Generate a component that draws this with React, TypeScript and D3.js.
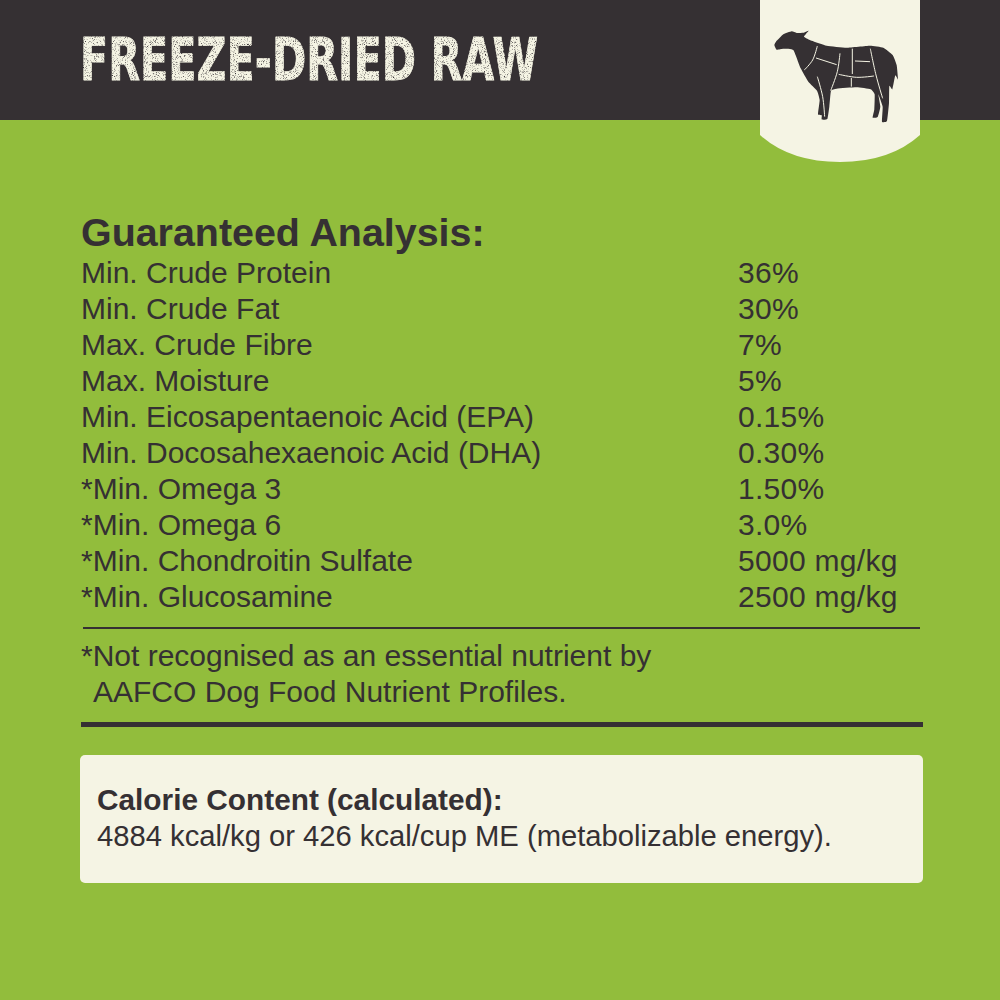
import React, { useEffect, useRef } from "react";
import * as d3 from "d3";

const nutrients = [
  "Min. Crude Protein",
  "Min. Crude Fat",
  "Max. Crude Fibre",
  "Max. Moisture",
  "Min. Eicosapentaenoic Acid (EPA)",
  "Min. Docosahexaenoic Acid (DHA)",
  "*Min. Omega 3",
  "*Min. Omega 6",
  "*Min. Chondroitin Sulfate",
  "*Min. Glucosamine",
];
const amounts = ["36%", "30%", "7%", "5%", "0.15%", "0.30%", "1.50%", "3.0%", "5000 mg/kg", "2500 mg/kg"];
const footnotes = ["*Not recognised as an essential nutrient by", "AAFCO Dog Food Nutrient Profiles."];

const GREEN = "#92bd3c";
const DARK = "#353033";
const CREAM = "#f5f4e4";
const FONT = "'Liberation Sans', Arial, sans-serif";

// sheep icon, 3x units
const sheepOutline: [number, number][] = [
  [103, 135], [108, 125], [130, 103], [155, 94], [170, 99], [190, 98], [206, 92], [192, 110], [215, 122],
  [260, 137], [320, 143], [390, 137], [430, 143], [458, 165], [470, 195], [474, 238], [466, 226],
  [457, 268], [448, 258], [447, 310], [441, 363], [426, 365], [428, 320], [415, 283], [421, 320],
  [413, 351], [398, 353], [403, 328], [404, 283], [392, 268], [350, 262], [290, 266], [273, 272],
  [268, 320], [262, 357], [245, 358], [249, 325], [249, 345], [234, 343], [239, 300], [231, 272],
  [205, 245], [182, 205], [160, 150], [130, 146], [110, 149],
];
const sheepCuts: [number, number][][] = [
  [[232, 138], [218, 180], [193, 210]],
  [[228, 174], [290, 194]],
  [[300, 160], [292, 215], [272, 272]],
  [[337, 146], [337, 222]],
  [[345, 183], [390, 185]],
  [[391, 146], [408, 225], [428, 295]],
  [[296, 223], [350, 232], [402, 228]],
  [[334, 234], [334, 260]],
  [[232, 230], [248, 290], [254, 350]],
];

const App: React.FC = () => {
  const svgRef = useRef<SVGSVGElement | null>(null);

  useEffect(() => {
    if (!svgRef.current) return;
    document.body.style.margin = "0";
    const svg = d3.select(svgRef.current);
    svg.selectAll("*").remove();

    // Speckled print look for the title
    const filter = svg.append("defs").append("filter").attr("id", "grain");
    filter
      .append("feTurbulence")
      .attr("type", "fractalNoise")
      .attr("baseFrequency", 1.1)
      .attr("numOctaves", 2)
      .attr("seed", 4)
      .attr("result", "noise");
    filter
      .append("feColorMatrix")
      .attr("in", "noise")
      .attr("type", "matrix")
      .attr("values", "0 0 0 0 0  0 0 0 0 0  0 0 0 0 0  0 0 0 -3 2.6")
      .attr("result", "mask");
    filter
      .append("feComposite")
      .attr("in", "SourceGraphic")
      .attr("in2", "mask")
      .attr("operator", "in");

    // Background and header
    svg.append("rect").attr("width", 1000).attr("height", 1000).attr("fill", GREEN);
    svg.append("rect").attr("width", 1000).attr("height", 120).attr("fill", DARK);
    svg
      .append("text")
      .attr("x", 80)
      .attr("y", 80)
      .attr("font-family", "'DejaVu Sans', sans-serif")
      .attr("font-weight", 700)
      .attr("font-size", 58)
      .attr("textLength", 458)
      .attr("lengthAdjust", "spacingAndGlyphs")
      .attr("fill", CREAM)
      .attr("stroke", CREAM)
      .attr("stroke-width", 0.8)
      .attr("filter", "url(#grain)")
      .text("FREEZE-DRIED RAW");

    // Tab with sheep
    svg
      .append("path")
      .attr("d", "M760 0H920V135Q890 162 840 162Q790 162 760 135Z")
      .attr("fill", CREAM);
    const sheep = svg.append("g").attr("transform", "translate(740,0) scale(0.3333)");
    sheep
      .append("path")
      .attr("d", d3.line().curve(d3.curveCardinalClosed.tension(0.6))(sheepOutline))
      .attr("fill", DARK);
    sheep
      .selectAll("path.cut")
      .data(sheepCuts)
      .enter()
      .append("path")
      .attr("class", "cut")
      .attr("d", (d) => d3.line().curve(d3.curveCatmullRom)(d))
      .attr("fill", "none")
      .attr("stroke", CREAM)
      .attr("stroke-width", 3);

    // Table
    svg
      .append("text")
      .attr("x", 81)
      .attr("y", 246)
      .attr("font-family", FONT)
      .attr("font-weight", 700)
      .attr("font-size", 39.4)
      .attr("fill", DARK)
      .text("Guaranteed Analysis:");

    const y = d3.scaleLinear().domain([0, nutrients.length - 1]).range([283, 607]);
    const table = svg.append("g").attr("font-family", FONT).attr("font-size", 30).attr("fill", DARK);
    table
      .selectAll("text.name")
      .data(nutrients)
      .enter()
      .append("text")
      .attr("class", "name")
      .attr("x", 81)
      .attr("y", (_, i) => y(i))
      .text((d) => d);
    table
      .selectAll("text.amount")
      .data(amounts)
      .enter()
      .append("text")
      .attr("class", "amount")
      .attr("x", 738)
      .attr("y", (_, i) => y(i))
      .attr("letter-spacing", 0.3)
      .text((d) => d);

    // Rules and footnote
    svg.append("rect").attr("x", 83).attr("y", 627).attr("width", 837).attr("height", 2).attr("fill", DARK);
    table
      .selectAll("text.note")
      .data(footnotes)
      .enter()
      .append("text")
      .attr("class", "note")
      .attr("x", (_, i) => (i === 0 ? 81 : 93))
      .attr("y", (_, i) => 666 + i * 36)
      .text((d) => d);
    svg.append("rect").attr("x", 81).attr("y", 722).attr("width", 842).attr("height", 5).attr("fill", DARK);

    // Calorie panel
    svg
      .append("rect")
      .attr("x", 80)
      .attr("y", 755)
      .attr("width", 843)
      .attr("height", 128)
      .attr("rx", 5)
      .attr("fill", CREAM);
    svg
      .append("text")
      .attr("x", 97)
      .attr("y", 810)
      .attr("font-family", FONT)
      .attr("font-weight", 700)
      .attr("font-size", 29.8)
      .attr("fill", DARK)
      .text("Calorie Content (calculated):");
    svg
      .append("text")
      .attr("x", 97)
      .attr("y", 846)
      .attr("font-family", FONT)
      .attr("font-size", 29.2)
      .attr("fill", DARK)
      .text("4884 kcal/kg or 426 kcal/cup ME (metabolizable energy).");
  }, []);

  return <svg ref={svgRef} width={1000} height={1000} style={{ display: "block" }} />;
};

export default App;
